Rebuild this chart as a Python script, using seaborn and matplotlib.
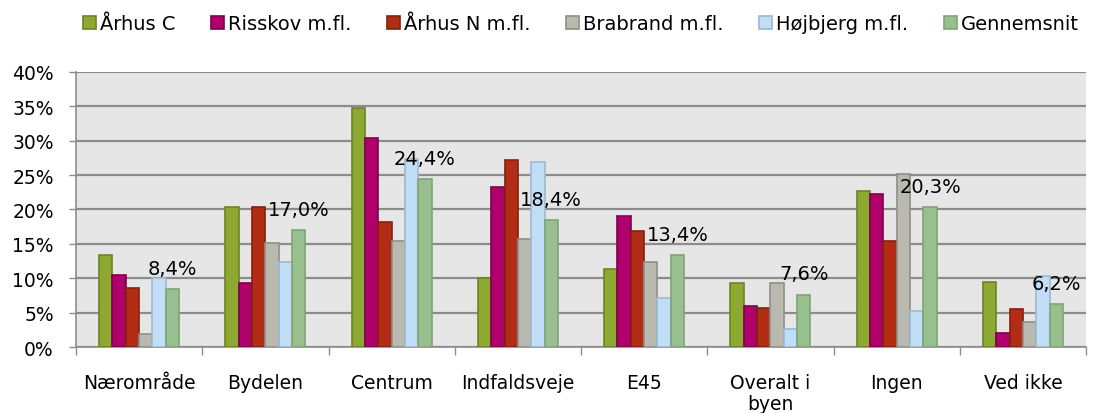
import numpy as np
import pandas as pd
import matplotlib
matplotlib.use("Agg")
import matplotlib.pyplot as plt
import seaborn as sns
from matplotlib.patches import Patch
from matplotlib.ticker import FixedLocator

categories = ["Nærområde", "Bydelen", "Centrum", "Indfaldsveje", "E45", "Overalt i\nbyen", "Ingen", "Ved ikke"]
series = ["Århus C", "Risskov m.fl.", "Århus N m.fl.", "Brabrand m.fl.", "Højbjerg m.fl.", "Gennemsnit"]

aarhus_c = [13.4, 20.4, 34.7, 10.1, 11.3, 9.3, 22.7, 9.5]
risskov = [10.5, 9.3, 30.4, 23.2, 19.1, 5.9, 22.2, 2.0]
aarhus_n = [8.6, 20.3, 18.2, 27.2, 16.8, 5.7, 15.4, 5.6]
brabrand = [1.9, 15.2, 15.4, 15.7, 12.3, 9.3, 25.2, 3.6]
hojbjerg = [10.0, 12.4, 27.3, 26.9, 7.2, 2.6, 5.2, 10.4]
gennemsnit = [8.4, 17.0, 24.4, 18.4, 13.4, 7.6, 20.3, 6.2]

face_colors = ["#8DA932", "#B0006B", "#B22C16", "#B9B9AF", "#C2DEF6", "#99BF8E"]
edge_colors = ["#6C8424", "#7E004C", "#82200F", "#8F8F87", "#9DB8D2", "#7FA577"]

values = [aarhus_c, risskov, aarhus_n, brabrand, hojbjerg, gennemsnit]
df = pd.DataFrame({
    "kategori": np.repeat([categories], len(series), axis=0).ravel(),
    "serie": np.repeat(series, len(categories)),
    "andel": np.concatenate(values),
})

plt.rcParams["font.family"] = ["DejaVu Sans"]
fig = plt.figure(figsize=(10.95, 4.14), dpi=100)
ax = fig.add_axes([0.0694, 0.1594, 0.9224, 0.6643])

sns.barplot(data=df, x="kategori", y="andel", hue="serie", hue_order=series,
            order=categories, palette=face_colors, saturation=1, width=0.635,
            errorbar=None, linewidth=1.2, ax=ax, legend=False, zorder=3)

for cont, ec in zip(ax.containers, edge_colors):
    for bar in cont:
        bar.set_edgecolor(ec)

# data labels for Gennemsnit
for bar, v in zip(ax.containers[-1], gennemsnit):
    ax.annotate(f"{v:.1f}%".replace(".", ","),
                (bar.get_x() + bar.get_width() / 2, bar.get_height()),
                xytext=(0, 15), textcoords="offset points",
                ha="center", va="center", fontsize=14, color="black", zorder=5)

ax.set_facecolor("#E6E6E6")
ax.set_ylim(0, 40)
ax.set_xlim(-0.5, len(categories) - 0.5)
ax.set_yticks(np.arange(0, 41, 5))
ax.set_yticklabels([f"{t}%" for t in range(0, 41, 5)], fontsize=13.5)
ax.yaxis.grid(True, color="#8C8C8C", linewidth=1.6, zorder=0)
ax.set_axisbelow(True)
ax.tick_params(axis="y", length=5, color="#8C8C8C", width=1, pad=11)

ax.set_xticks(range(len(categories)))
ax.set_xticklabels(categories, fontsize=13.5, linespacing=1.1, va="top")
ax.xaxis.set_minor_locator(FixedLocator(np.arange(-0.5, len(categories), 1.0)))
ax.tick_params(axis="x", which="major", length=0, pad=19)
ax.tick_params(axis="x", which="minor", length=6, color="#8C8C8C", width=1)
ax.set_xlabel("")
ax.set_ylabel("")

for s in ["top", "right"]:
    ax.spines[s].set_visible(False)
for s in ["left", "bottom"]:
    ax.spines[s].set_color("#8C8C8C")
    ax.spines[s].set_linewidth(1.2)

handles = [Patch(facecolor=fc, edgecolor=ec, linewidth=1.2) for fc, ec in zip(face_colors, edge_colors)]
fig.legend(handles, series, loc="center", bbox_to_anchor=(0.5306, 0.94), ncol=6,
           frameon=False, fontsize=14, handlelength=0.65, handleheight=0.65,
           handletextpad=0.2, columnspacing=1.85)

fig.savefig("out.png", dpi=100, facecolor="white")
